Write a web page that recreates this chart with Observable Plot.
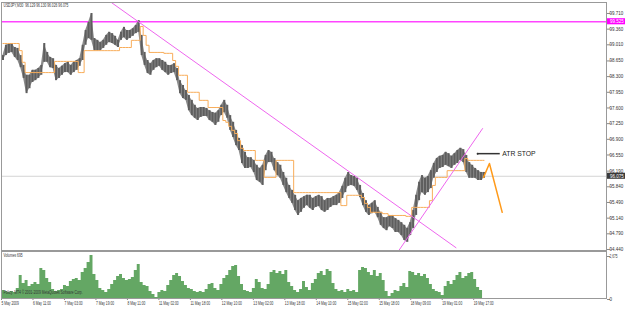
<!DOCTYPE html>
<html><head><meta charset="utf-8">
<script src="https://cdn.jsdelivr.net/npm/d3@7"></script>
<script src="https://cdn.jsdelivr.net/npm/@observablehq/plot@0.6"></script>
<style>
html,body{margin:0;padding:0;background:#fff;}
#wrap{position:relative;width:625px;height:310px;overflow:hidden;}
#wrap svg{position:absolute;left:0;}
</style></head><body><div id="wrap"></div>
<script>
// ---- data (3 M30 bars per sample) ----
const titleText = "USDJPY,M30  96.129 96.130 96.026 96.075";
const volLabel = "Volumes 695";
const copyright = "Policy: MT4 \u00a9 2001-2009 MetaQuotes Software Corp.";
const high = [98.77,99.00,99.02,99.04,98.95,98.93,98.77,98.55,98.33,98.33,
98.44,98.44,98.48,98.55,99.04,98.84,98.73,98.70,98.55,98.48,
98.53,98.59,98.62,98.55,98.62,98.66,98.70,99.00,99.33,99.51,
99.71,99.15,99.11,99.06,99.11,99.22,99.29,99.26,99.20,99.11,
99.29,99.40,99.33,99.33,99.37,99.44,99.55,99.22,98.84,98.66,
98.59,98.66,98.70,98.70,98.66,98.62,98.55,98.55,98.59,98.48,
98.21,98.10,97.99,97.88,97.77,97.66,97.59,97.61,97.61,97.59,
97.54,97.50,97.48,97.54,97.66,97.77,97.66,97.43,97.28,97.10,
96.92,96.76,96.61,96.49,96.49,96.43,96.32,96.25,96.32,96.54,
96.65,96.61,96.47,96.38,96.32,96.16,96.03,95.87,95.76,95.65,
95.53,95.58,95.62,95.65,95.65,95.58,95.62,95.65,95.62,95.53,
95.58,95.58,95.62,95.65,95.71,95.85,96.03,96.16,96.09,96.07,
96.03,95.87,95.69,95.53,95.42,95.47,95.53,95.38,95.27,95.15,
95.15,95.20,95.20,95.13,95.09,95.04,94.98,94.91,95.04,95.31,
95.65,95.94,96.09,96.03,96.07,96.20,96.36,96.47,96.52,96.54,
96.61,96.58,96.52,96.58,96.65,96.70,96.67,96.54,96.38,96.32,
96.25,96.20,96.16,96.16];
const low = [98.66,98.77,98.82,98.84,98.73,98.66,98.50,98.26,97.92,98.03,
98.17,98.21,98.26,98.33,98.62,98.62,98.50,98.48,98.21,98.26,
98.33,98.39,98.39,98.33,98.39,98.44,98.53,98.66,99.00,99.15,
99.11,98.88,98.88,98.88,98.93,99.00,99.06,99.04,99.00,98.95,
99.11,99.17,99.11,99.15,99.20,99.26,99.29,98.77,98.55,98.37,
98.33,98.44,98.50,98.53,98.44,98.39,98.33,98.37,98.39,98.21,
97.92,97.81,97.77,97.54,97.43,97.37,97.32,97.39,97.41,97.41,
97.32,97.28,97.21,97.28,97.43,97.50,97.37,97.10,96.94,96.76,
96.65,96.36,96.25,96.25,96.27,96.16,95.98,95.94,95.87,96.20,
96.38,96.38,96.20,96.09,96.03,95.87,95.71,95.58,95.47,95.31,
95.20,95.27,95.36,95.42,95.36,95.31,95.38,95.40,95.31,95.27,
95.31,95.38,95.42,95.42,95.47,95.58,95.71,95.85,95.87,95.85,
95.76,95.60,95.42,95.27,95.20,95.24,95.27,95.15,94.98,94.91,
94.86,94.95,94.91,94.82,94.82,94.75,94.64,94.60,94.75,94.91,
95.20,95.53,95.71,95.65,95.71,95.80,96.03,96.16,96.25,96.27,
96.32,96.29,96.25,96.32,96.36,96.43,96.38,96.16,96.03,96.03,
96.03,95.98,95.98,96.03];
const atrStop = [99.04,99.04,99.04,99.04,99.04,99.04,98.88,98.62,98.39,98.39,
98.39,98.39,98.39,98.39,98.39,98.39,98.39,98.39,98.64,98.64,
98.64,98.64,98.64,98.64,98.64,98.64,98.39,98.39,98.88,98.88,
98.88,98.88,98.88,98.88,98.88,98.88,98.88,98.88,98.88,98.88,
98.95,98.95,98.95,98.95,99.11,99.11,99.11,99.42,99.22,99.00,
98.84,98.84,98.84,98.84,98.84,98.82,98.82,98.82,98.66,98.53,
98.33,98.33,98.33,97.95,97.95,97.95,97.95,97.77,97.77,97.77,
97.61,97.61,97.61,97.61,97.61,97.32,97.28,97.19,97.10,97.03,
96.87,96.70,96.65,96.65,96.65,96.65,96.43,96.43,96.43,96.05,
96.05,96.05,96.05,96.43,96.43,96.43,96.43,96.43,96.43,95.71,
95.71,95.71,95.71,95.71,95.71,95.71,95.71,95.71,95.71,95.71,
95.71,95.71,95.71,95.71,95.71,95.42,95.42,95.65,95.65,95.65,
95.65,95.65,95.60,95.47,95.38,95.27,95.27,95.27,95.27,95.24,
95.24,95.20,95.20,95.20,95.20,95.20,95.20,95.18,95.18,95.38,
95.38,95.38,95.38,95.38,95.38,95.53,95.87,96.05,96.05,96.05,
96.05,96.20,96.20,96.20,96.20,96.20,96.20,96.47,96.43,96.43,
96.43,96.43,96.43,96.43];
const volume = [500,440,370,430,380,620,1430,930,1120,750,
870,1000,870,1870,1740,1240,1000,560,440,500,
560,810,750,1060,1180,1240,1120,1620,1870,2240,
2675,1490,1120,620,500,370,560,870,1120,1370,
1490,1240,1120,1180,1300,1740,2110,1000,810,750,
440,250,60,370,500,440,810,1120,1430,1560,
1370,1060,810,620,560,440,370,440,370,560,
870,930,620,500,870,1240,1430,1740,1990,2050,
1370,870,500,440,370,620,1180,1000,620,560,
870,1620,1740,1560,1680,1490,1740,1000,750,500,
370,560,1060,680,500,930,1180,1560,1680,1430,
1800,1680,930,560,440,500,370,560,440,500,
370,1740,1930,1870,1620,1430,1740,1370,1560,1120,
440,120,310,500,440,750,930,680,1680,1620,
1430,1560,1370,1490,1240,870,560,440,370,190,
750,1060,870,1120,1430,1620,1240,1370,1560,1620,
1180,680,500,440];
// ATR projection beyond last bar (bar index, price)
const projBars = [490, 496, 509];
const projPrices = [96.05, 96.36, 95.27];
// trend lines (bar index, price)
const downBars = [112, 462], downPrices = [99.95, 94.48];
const upBars = [404, 489], upPrices = [94.42, 97.14];
const hLevel = 99.525;
const lastPrice = 96.075;
const atrNote = {bar1: 484, bar2: 507, price: 96.58, text: "ATR STOP"};
// axes
const priceTicks = [99.710,99.360,99.010,98.650,98.300,97.950,97.600,97.250,96.900,96.550,96.190,95.840,95.490,95.140,94.790,94.440];
const volTicks = [0, 2675];
const tickBars = [0,32,64,96,128,160,192,224,256,288,320,352,384,416,448,480];
const dateLabels = ["5 May 2009","6 May 11:00","7 May 03:00","7 May 19:00","8 May 11:00","11 May 02:00","11 May 18:00","12 May 10:00","13 May 02:00","13 May 18:00","14 May 10:00","15 May 02:00","15 May 18:00","18 May 09:00","19 May 01:00","19 May 17:00"];

// ---- build ----
const step = 3;
const xMax = 615;
const rows = high.map((h, i) => ({bar: i * step, high: h, low: low[i], atr: atrStop[i], vol: volume[i]}));
const proj = projBars.map((b, i) => ({bar: b, price: projPrices[i]}));
const downLine = downBars.map((b, i) => ({bar: b, price: downPrices[i]}));
const upLine = upBars.map((b, i) => ({bar: b, price: upPrices[i]}));
const highlights = [{price: hLevel, color: "#ff00ff"}, {price: lastPrice, color: "#3a3a3a"}];
const font = "Liberation Sans, Arial, sans-serif";

const main = Plot.plot({
  width: 625, height: 252, marginTop: 2, marginBottom: 2, marginLeft: 1, marginRight: 19,
  x: {domain: [0, xMax], axis: null},
  y: {domain: [94.4175, 99.955], axis: null},
  style: {fontFamily: font, fontSize: "5px", background: "transparent", color: "#333", overflow: "visible"},
  marks: [
    Plot.ruleY([lastPrice], {stroke: "#d4d4d4", strokeWidth: 1}),
    Plot.ruleY([hLevel], {stroke: "#ff44ff", strokeWidth: 1.5}),
    Plot.areaY(rows, {x: d => d.bar + 1.5, y1: "low", y2: "high", fill: "#8a8a8a"}),
    Plot.ruleX(rows, {x: d => d.bar + 1.5, y1: "low", y2: "high", stroke: "#5e5e5e", strokeWidth: 2}),
    Plot.line(rows, {x: d => d.bar + 1.5, y: "atr", stroke: "#f8ad5a", strokeWidth: 1, curve: "step"}),
    Plot.line(proj, {x: "bar", y: "price", stroke: "#ff9a1a", strokeWidth: 1.5}),
    Plot.line(downLine, {x: "bar", y: "price", stroke: "#ee66ee", strokeWidth: 1, clip: true}),
    Plot.line(upLine, {x: "bar", y: "price", stroke: "#ee66ee", strokeWidth: 1, clip: true}),
    Plot.ruleY([atrNote], {y: "price", x1: "bar1", x2: "bar2", stroke: "#333", strokeWidth: 1.5}),
    Plot.dot([atrNote], {x: "bar1", y: "price", r: 1, fill: "#333"}),
    Plot.text([atrNote], {x: "bar2", y: "price", text: "text", textAnchor: "start", dx: 2, fontSize: 6.8, fill: "#222"}),
    Plot.text([titleText], {frameAnchor: "top-left", dx: 2, dy: 1, text: d => d, fill: "#333", fontSize: 5}),
    Plot.axisY(priceTicks, {anchor: "right", label: null, tickSize: 3, tickPadding: 0, tickFormat: d => d.toFixed(3), stroke: "#888", fontSize: 4.8}),
    Plot.rect(highlights, {x1: () => xMax + 0.4, x2: () => xMax + 20, y1: d => d.price - 0.068, y2: d => d.price + 0.068, fill: "color"}),
    Plot.text(highlights, {x: () => xMax + 0.4, y: "price", text: d => d.price.toFixed(3), textAnchor: "start", dx: 3, fill: "white", fontSize: 4.8}),
    Plot.frame({stroke: "#999"})
  ]
});

const vol = Plot.plot({
  width: 625, height: 60, marginTop: 1, marginBottom: 12, marginLeft: 1, marginRight: 19,
  x: {domain: [0, xMax], axis: null},
  y: {domain: [0, 2924], axis: null},
  style: {fontFamily: font, fontSize: "5px", background: "transparent", color: "#333", overflow: "visible"},
  marks: [
    Plot.areaY(rows, {x: "bar", y: "vol", fill: "#64a764", curve: "step-after"}),
    Plot.text([volLabel], {frameAnchor: "top-left", dx: 2, dy: 2, text: d => d, fill: "#333", fontSize: 5}),
    Plot.text([copyright], {frameAnchor: "bottom-left", dx: 2, dy: -5, text: d => d, fill: "#333", fontSize: 5}),
    Plot.axisY(volTicks, {anchor: "right", label: null, tickSize: 3, tickPadding: 0, stroke: "#888", fontSize: 4.8, dy: 1}),
    Plot.axisX(tickBars, {anchor: "bottom", label: null, tickSize: 2, tickPadding: 1, textAnchor: "start", tickFormat: d => dateLabels[tickBars.indexOf(d)], stroke: "#888", fontSize: 5}),
    Plot.frame({stroke: "#999"})
  ]
});

const wrap = document.getElementById("wrap");
main.style.top = "0px";
vol.style.top = "250px";
wrap.appendChild(main);
wrap.appendChild(vol);

// condense the small MT4-style labels horizontally
function condense(svg) {
  svg.querySelectorAll("text").forEach(t => {
    const s = t.textContent;
    let f;
    if (s === "ATR STOP") return;
    if (/^\d+(\.\d+)?$/.test(s)) f = 0.94; else f = 0.66;
    const w = t.getComputedTextLength();
    if (w > 0) {
      t.setAttribute("textLength", (w * f).toFixed(2));
      t.setAttribute("lengthAdjust", "spacingAndGlyphs");
    }
  });
}
condense(main);
condense(vol);
</script></body></html>
